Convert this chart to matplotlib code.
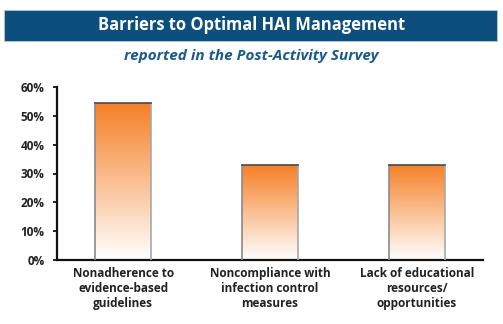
import matplotlib.pyplot as plt
import numpy as np
from matplotlib.patches import Rectangle

categories = ["Nonadherence to\nevidence-based\nguidelines",
              "Noncompliance with\ninfection control\nmeasures",
              "Lack of educational\nresources/\nopportunities"]
values = [54.3, 32.8, 33.1]
yticks = [0, 10, 20, 30, 40, 50, 60]

title = "Barriers to Optimal HAI Management"
subtitle = "reported in the Post-Activity Survey"

plt.rcParams['font.family'] = ['Open Sans', 'DejaVu Sans']

fig = plt.figure(figsize=(5.03, 3.24), dpi=100)

# title banner
fig.patches.append(Rectangle((4 / 503, 1 - 41 / 324), 493 / 503, 31 / 324,
                             transform=fig.transFigure, facecolor="#0c4f7c",
                             edgecolor="#b8c8d6", lw=0.6, zorder=0))
fig.text(0.5, 1 - 25.5 / 324, title, ha="center", va="center", color="white",
         fontsize=11.9, fontweight="bold")
fig.text(0.5, 1 - 56 / 324, subtitle, ha="center", va="center", color="#1a5a8c",
         fontsize=11, fontweight="bold", style="italic")

ax = fig.add_axes([57 / 503, 1 - 260 / 324, 426 / 503, 173 / 324])
x = np.arange(len(values))
width = 0.38

# vertical orange-to-white gradient
grad = np.linspace(0, 1, 256).reshape(-1, 1)
top = np.array([245, 128, 38]) / 255
img = np.ones((256, 1, 3)) * (1 - grad[..., None]) + top * grad[..., None]
bars = ax.bar(x, values, width, color="none", edgecolor="none", zorder=2)
for b, v in zip(bars, values):
    x0 = b.get_x()
    im = ax.imshow(img, extent=[x0, x0 + width, 0, v], origin="lower",
                   aspect="auto", zorder=1)
    im.set_clip_path(b)
    ax.plot([x0, x0], [0, v], color="#8a8a8a", lw=1.2, zorder=3)
    ax.plot([x0 + width, x0 + width], [0, v], color="#a8a8a8", lw=1.2, zorder=3)
    ax.plot([x0, x0 + width], [v, v], color="#4a4a4a", lw=1.2, zorder=3)

ax.set_xlim(-0.45, 2.45)
ax.set_ylim(0, 60)
ax.set_yticks(yticks)
ax.set_yticklabels([f"{t}%" for t in yticks], fontsize=8.5, fontweight="bold",
                   color="#222222")
ax.set_xticks(x)
ax.set_xticklabels(categories, fontsize=8.5, fontweight="bold", color="#222222",
                   linespacing=1.2)
ax.tick_params(axis="x", length=0, pad=5)
ax.tick_params(axis="y", length=3, width=1.2, pad=6)
for s in ["top", "right"]:
    ax.spines[s].set_visible(False)
for s in ["left", "bottom"]:
    ax.spines[s].set_linewidth(1.6)
    ax.spines[s].set_color("#111111")

fig.savefig("out.png", dpi=100)
